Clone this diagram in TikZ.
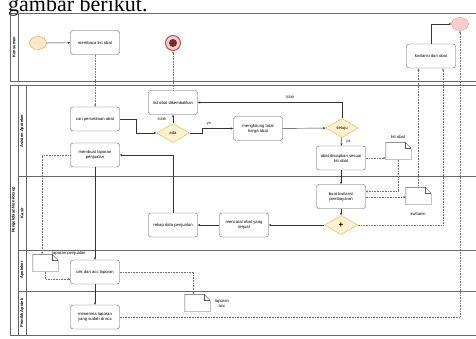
\documentclass[tikz,border=0pt]{standalone}
\usepackage{fontspec}
\setmainfont{Liberation Sans}
\newfontfamily\headfont{Liberation Serif}
\usetikzlibrary{shapes.geometric, arrows.meta}
\definecolor{gatefill}{HTML}{FFF2CC}
\definecolor{gateline}{HTML}{D6B656}
\definecolor{startfill}{HTML}{FFE6CC}
\definecolor{startline}{HTML}{D79B00}
\definecolor{endfill}{HTML}{F8CECC}
\definecolor{endline}{HTML}{B85450}
\tikzset{
    x=1pt, y=-1pt, % one unit is one pixel, y runs downwards
    >={Stealth[length=2.6pt,width=2.2pt]}, % small filled heads
    every node/.style={font=\fontsize{4.2}{5}\selectfont, align=center},
    task/.style={draw=black!65, rounded corners=2.5pt, minimum width=49pt, minimum height=24pt, inner sep=0.5pt, line width=0.4pt}, % activities
    gate/.style={diamond, draw=gateline, fill=gatefill, minimum width=33pt, minimum height=19pt, inner sep=0pt, line width=0.4pt}, % gateways
    docnode/.style={minimum width=25pt, minimum height=17pt, inner sep=0pt}, % data objects
    flow/.style={->, line width=0.45pt, black!80}, % sequence flow
    msg/.style={->, line width=0.4pt, black!55, dash pattern=on 0.8pt off 0.8pt}, % association
    lane/.style={draw=black!60, line width=0.5pt},
    lanetext/.style={rotate=90, font=\fontsize{4}{4.5}\selectfont\bfseries},
}
\newcommand{\drawdoc}[1]{%
    \draw[black!65, line width=0.4pt] (#1.south west) -- (#1.south east) -- ([yshift=-6pt]#1.north east) -- ([xshift=-6pt]#1.north east) -- (#1.north west) -- cycle;
    \draw[black!65, line width=0.4pt] ([xshift=-6pt]#1.north east) -- ([xshift=-6pt,yshift=-6pt]#1.north east) -- ([yshift=-6pt]#1.north east);
}

\begin{document}
\begin{tikzpicture}
    \useasboundingbox (0,0) rectangle (476,338);
    \node[font=\headfont\fontsize{22}{22}\selectfont, anchor=base west, inner sep=0pt] (judul) at (8,11) {gambar berikut.};

    % pools and lanes
    \draw[lane] (10,13) rectangle (482,81);
    \draw[lane] (18,13) -- (18,81);
    \node[lanetext] at (14,47) {Konsumen};
    \draw[lane] (10,85) rectangle (482,335);
    \draw[lane] (18,85) -- (18,335);
    \draw[lane] (26,85) -- (26,335);
    \draw[lane] (18,176) -- (482,176);
    \draw[lane] (18,250) -- (482,250);
    \draw[lane] (18,291) -- (482,291);
    \node[lanetext] at (13.5,210) {Pengelolaan Non Resep};
    \node[lanetext] at (22,131) {Asisten Apoteker};
    \node[lanetext] at (22,213) {Kasir};
    \node[lanetext] at (22,270) {Apoteker};
    \node[lanetext] at (22,313) {Pemilik Apotek};

    % Konsumen
    \node[ellipse, draw=startline, fill=startfill, minimum width=17pt, minimum height=13pt, line width=0.4pt] (mulai) at (38,43) {};
    \node[task] (membaca) at (95,42.5) {membaca list obat};
    \node[circle, draw=endline, fill=endfill, minimum size=15pt, line width=1pt] (selesai1) at (173,43) {};
    \fill[endline!60!black] (selesai1) circle (4);
    \node[task] (kwitobat) at (431,56) {kwitansi dan obat};
    \node[ellipse, draw=endline!60, fill=endfill, minimum width=17pt, minimum height=13pt, line width=0.4pt] (selesai2) at (460,24) {};

    % Asisten Apoteker
    \node[task] (cari) at (95,119) {cari persediaan obat};
    \node[task] (kembali) at (173,102.5) {list obat dikembalikan};
    \node[gate] (ada) at (173,133) {ada};
    \node[task] (hitung) at (258,128.5) {menghitung total\\harga obat};
    \node[gate] (setuju) at (342,128) {setuju};
    \node[task] (siapkan) at (341,158) {obat disiapkan sesuai\\list obat};
    \node[docnode] (listdoc) at (398.5,151) {};
    \drawdoc{listdoc}
    \node at (398,137) {list obat};
    \node[task] (laporan) at (95,155) {membuat laporan\\penjualan};

    % Kasir
    \node[task] (kwitansi) at (341,196.5) {buat kwitansi\\pembayaran};
    \node[docnode] (kwitdoc) at (418.5,196) {};
    \drawdoc{kwitdoc}
    \node at (418,214) {kwitansi};
    \node[gate, font=\fontsize{8}{8}\selectfont\bfseries] (plus) at (341,225) {+};
    \node[task] (catat) at (244,225) {mencatat obat yang\\terjual};
    \node[task] (rekap) at (173,225) {rekap data penjualan};

    % Apoteker
    \node[docnode] (lapdoc) at (45.5,263) {};
    \drawdoc{lapdoc}
    \node[anchor=west, inner sep=0pt] at (52,253) {laporan penjualan};
    \node[task] (cek) at (95,272) {cek dan acc laporan};
    \node[docnode] (accdoc) at (197.5,303) {};
    \drawdoc{accdoc}
    \node at (222,303) {laporan\\acc};

    % Pemilik Apotek
    \node[task] (terima) at (95,317) {menerima laporan\\yang sudah di acc};

    % connectors
    \draw[flow] (mulai) -- (membaca);
    \draw[msg] (membaca) -- (cari);
    \draw[msg] (kembali) -- (selesai1);
    \draw[flow] (cari.east) -- ++(17,0) |- (ada.west);
    \draw[flow] (ada) -- (kembali) node[midway, left=3pt] {tidak};
    \draw[flow] (ada.east) -- ++(13,0) |- (hitung.west) node[pos=0.6, above] {ya};
    \draw[flow] (hitung) -- (setuju);
    \draw[flow] (setuju.north) |- (kembali.east) node[pos=0.68, above] {tidak};
    \draw[flow] (setuju) -- (siapkan) node[midway, right=1pt] {ya};
    \draw[msg] (siapkan.east) -- (siapkan.east -| listdoc.west);
    \draw[msg] (listdoc.south) |- ([yshift=5pt]kwitansi.east);
    \draw[flow] (siapkan) -- (kwitansi);
    \draw[msg] ([yshift=-0.5pt]kwitansi.east) -- ([yshift=-0.5pt]kwitansi.east -| kwitdoc.west);
    \draw[flow] (kwitansi) -- (plus);
    \draw[msg] (kwitdoc.north) -- (kwitdoc.north |- kwitobat.south);
    \draw[msg] (plus.east) -| ([xshift=12pt]kwitobat.south);
    \draw[flow] (plus) -- (catat);
    \draw[flow] (catat) -- (rekap);
    \draw[flow] (rekap.north) |- (laporan.east);
    \draw[msg] (laporan.west) -| ([xshift=-3.5pt]lapdoc.north);
    \draw[flow] (laporan) -- (cek);
    \draw[msg] (lapdoc.south) |- ([yshift=-7pt]cek.west);
    \draw[msg] (cek.east) -| ([xshift=-4pt]accdoc.north);
    \draw[flow] (cek) -- (terima);
    \draw[msg] (terima.east) -| (selesai2.south);
    \draw[flow] (kwitobat.north) |- (selesai2.west);
\end{tikzpicture}
\end{document}
